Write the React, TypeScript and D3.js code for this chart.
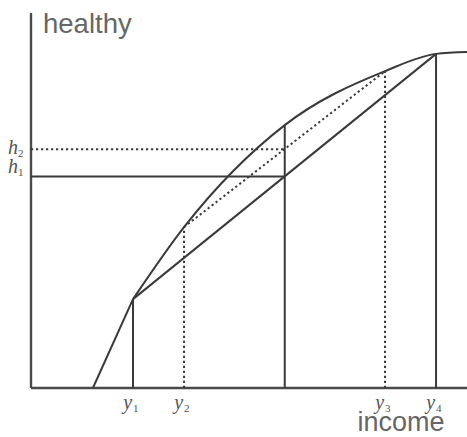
import React from "react";
import * as d3 from "d3";

// Health production function (income -> health)
const curveIncome = [14.2, 23.4, 35.1, 58.2, 81.2, 92.9, 100];
const curveHealth = [0, 23.7, 42.9, 70.1, 84.5, 89.1, 89.6];

// Income levels marked on the axis
const incomeLabels = ["1", "2", "3", "4"];
const incomeValues = [23.4, 35.1, 81.2, 92.9];
const incomeHealth = [23.7, 42.9, 84.5, 89.1];
const incomeDotted = [false, true, true, false];

// Mean income (y1+y4)/2 = (y2+y3)/2
const meanIncome = [58.2];
// Expected health levels
const healthLabels = ["1", "2"];
const healthValues = [56.4, 63.7];
const healthDotted = [false, true];

const W = 467;
const H = 437;

export default function App() {
  const x = d3.scaleLinear().domain([0, 100]).range([31, 467]);
  const y = d3.scaleLinear().domain([0, 100]).range([388, 13]);

  const pts: [number, number][] = curveIncome.map((v, i) => [v, curveHealth[i]]);
  const lower = d3
    .line<[number, number]>()
    .x((d) => x(d[0]))
    .y((d) => y(d[1]));
  const upper = d3
    .line<[number, number]>()
    .x((d) => x(d[0]))
    .y((d) => y(d[1]))
    .curve(d3.curveMonotoneX);

  const stroke = "#3a3a3a";
  const dash = "2.2,2.8";
  const midCurveH = 70.1;
  const labFill = "#555";

  return (
    <svg
      width={W}
      height={H}
      style={{ position: "absolute", left: 0, top: 0, background: "#fff" }}
    >
      {/* axes */}
      <line x1={x(0)} y1={y(0)} x2={x(0)} y2={y(100)} stroke="#4a4a4a" strokeWidth={2.4} />
      <line x1={x(0)} y1={y(0)} x2={x(100)} y2={y(0)} stroke="#4a4a4a" strokeWidth={2.4} />

      {/* production curve */}
      <path d={lower(pts.slice(0, 2)) || ""} fill="none" stroke={stroke} strokeWidth={2} />
      <path d={upper(pts.slice(1)) || ""} fill="none" stroke={stroke} strokeWidth={2} />

      {/* chord y1-y4 */}
      <line
        x1={x(incomeValues[0])}
        y1={y(incomeHealth[0])}
        x2={x(incomeValues[3])}
        y2={y(incomeHealth[3])}
        stroke={stroke}
        strokeWidth={2}
      />
      {/* chord y2-y3 */}
      <line
        x1={x(incomeValues[1])}
        y1={y(incomeHealth[1])}
        x2={x(incomeValues[2])}
        y2={y(incomeHealth[2])}
        stroke={stroke}
        strokeWidth={2}
        strokeDasharray={dash}
      />

      {/* vertical drops */}
      {incomeValues.map((v, i) => (
        <line
          key={"v" + i}
          x1={x(v)}
          y1={y(0)}
          x2={x(v)}
          y2={y(incomeHealth[i])}
          stroke={stroke}
          strokeWidth={2}
          strokeDasharray={incomeDotted[i] ? dash : undefined}
        />
      ))}
      <line
        x1={x(meanIncome[0])}
        y1={y(0)}
        x2={x(meanIncome[0])}
        y2={y(midCurveH)}
        stroke={stroke}
        strokeWidth={2}
      />

      {/* horizontal health levels */}
      {healthValues.map((h, i) => (
        <line
          key={"h" + i}
          x1={x(0)}
          y1={y(h)}
          x2={x(meanIncome[0])}
          y2={y(h)}
          stroke={stroke}
          strokeWidth={2}
          strokeDasharray={healthDotted[i] ? dash : undefined}
        />
      ))}

      {/* income tick labels */}
      {incomeValues.map((v, i) => (
        <g key={"yl" + i}>
          <text
            x={x(v) - 1}
            y={409}
            textAnchor="end"
            fontFamily="Liberation Serif"
            fontStyle="italic"
            fontSize={20}
            fill={labFill}
          >
            y
          </text>
          <text
            x={x(v)}
            y={412}
            textAnchor="start"
            fontFamily="Liberation Serif"
            fontSize={11}
            fill={labFill}
          >
            {incomeLabels[i]}
          </text>
        </g>
      ))}

      {/* health labels */}
      {healthValues.map((h, i) => (
        <g key={"hl" + i}>
          <text
            x={18}
            y={y(h) + (i === 0 ? -4 : 5)}
            textAnchor="end"
            fontFamily="Liberation Serif"
            fontStyle="italic"
            fontSize={20}
            fill={labFill}
          >
            h
          </text>
          <text
            x={18}
            y={y(h) + (i === 0 ? -1 : 8)}
            textAnchor="start"
            fontFamily="Liberation Serif"
            fontSize={11}
            fill={labFill}
          >
            {healthLabels[i]}
          </text>
        </g>
      ))}

      {/* axis titles */}
      <text x={43} y={33} fontFamily="Liberation Sans" fontSize={27.5} fill="#666">
        healthy
      </text>
      <text x={401} y={431} textAnchor="middle" fontFamily="Liberation Sans" fontSize={27} fill="#666">
        income
      </text>
    </svg>
  );
}
